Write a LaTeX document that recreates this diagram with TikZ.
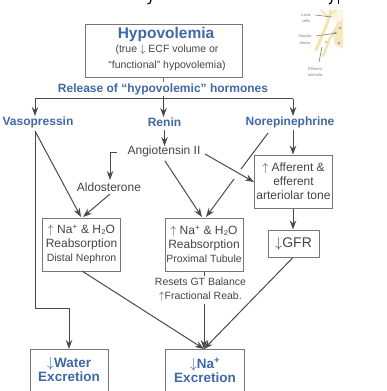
\documentclass[tikz,border=0pt]{standalone}
\usepackage{fontspec}
\setmainfont{Liberation Sans}
\usetikzlibrary{arrows.meta}
\definecolor{headblue}{HTML}{3F68A8}
\definecolor{linegray}{HTML}{4A4A4A}
\definecolor{boxgray}{HTML}{777777}
\definecolor{textgray}{HTML}{444444}
\definecolor{tan}{HTML}{F3E3AE}
\definecolor{cellpurple}{HTML}{A79BB5}
\tikzset{
  x=1pt,y=-1pt,
  flow/.style={draw=linegray,line width=1pt,-{Stealth[length=9pt,width=6.5pt]}},
  plain/.style={draw=linegray,line width=1pt},
  boxed/.style={draw=boxgray,line width=1pt,minimum width=78pt,align=center,inner sep=0pt,text=textgray},
  label/.style={text=textgray,font=\fontsize{12}{14}\selectfont,align=center,inner sep=1pt},
  head/.style={text=headblue,font=\fontsize{12}{14}\bfseries\selectfont,align=center,inner sep=1pt},
  tiny/.style={text=gray,font=\fontsize{4}{6.5}\selectfont,align=center,inner sep=0pt},
  strand/.style={draw=tan,line cap=round},
}
\newcommand{\up}{$\uparrow$}
\newcommand{\dn}{$\downarrow$}
\newcommand{\plusion}{\textsuperscript{+}}
\begin{document}
\begin{tikzpicture}
\useasboundingbox (0,0) rectangle (386,391);

% descenders of the heading line above
\draw[black,line width=1.2pt] (151,0) -- (150,3) -- (147.5,4);
\draw[black,line width=1.2pt] (332,0) -- (331,3) -- (329,4);
\draw[black,line width=1.2pt] (338.5,0) -- (338.5,4);

% juxtaglomerular inset
\fill[tan!35] (326,10) -- (343,10) -- (343,50) -- (334,44) -- (336,24) -- cycle;
\draw[strand,line width=3pt] (331,11) -- (327,24) -- (316,50);
\draw[strand,line width=2.5pt] (340,22) -- (330,38) -- (323,56);
\draw[strand,line width=1.5pt] (321,10) -- (328,17) -- (336,10);
\fill[tan!80] (343,18) -- (343,48) -- (335,45) -- (333,34) -- cycle;
\fill[cellpurple] (340,28) circle (1.3) (335,33) circle (1.3) (339,43) circle (1.3) (326,42) circle (1);
\draw[gray,line width=.6pt] (315,15) -- (332,17);
\draw[gray,line width=.6pt] (316,36) -- (337,33);
\draw[gray,line width=.6pt] (322,47) -- (319,62);
\node[tiny] (lacis) at (306,18) {Lacis\\cells};
\node[tiny] (macula) at (305,39.5) {Macula\\densa};
\node[tiny] (efferent) at (315,72) {Efferent\\arteriole};

% boxes
\node[boxed,minimum width=157pt,minimum height=53pt] (hypo) at (163.5,50.5) {};
\node[head,font=\fontsize{15.5}{18}\bfseries\selectfont] (hypotitle) at (166,34) {Hypovolemia};
\node[label,font=\fontsize{10.5}{16}\selectfont] (hyposub) at (167,58) {(true \dn\ ECF volume or\\“functional” hypovolemia)};
\node[head] (release) at (163,89) {Release of “hypovolemic” hormones};

\node[head] (vaso) at (38,122) {Vasopressin};
\node[head] (renin) at (164.5,122) {Renin};
\node[head] (norepi) at (290,122) {Norepinephrine};

\node[label] (angio) at (164,151) {Angiotensin II};
\node[label] (aldo) at (109,187) {Aldosterone};

\node[boxed,minimum height=53pt,font=\fontsize{12}{14}\selectfont] (distal) at (81.5,244.5) {\up\ Na\plusion\ \& H₂O\\Reabsorption\\{\fontsize{10.5}{14}\selectfont Distal Nephron}};
\node[boxed,minimum height=53pt,font=\fontsize{12}{14}\selectfont] (prox) at (204,244.5) {\up\ Na\plusion\ \& H₂O\\Reabsorption\\{\fontsize{10.5}{14}\selectfont Proximal Tubule}};
\node[boxed,minimum height=53pt,font=\fontsize{12}{14}\selectfont] (tone) at (293.5,181.5) {\up\ Afferent \&\\efferent\\arteriolar tone};
\node[boxed,minimum width=51pt,minimum height=27pt,font=\fontsize{14}{16}\selectfont] (gfr) at (293.5,243.5) {\dn GFR};
\node[label,font=\fontsize{10.5}{14}\selectfont] (resets) at (200.5,290) {Resets GT Balance\\\up Fractional Reab.};

% outcome boxes run off the bottom edge
\coordinate (watertop) at (69,349);
\coordinate (natop) at (204,349);
\draw[boxgray,line width=1pt] (30,391) -- (30,349) -- (108,349) -- (108,391);
\draw[boxgray,line width=1pt] (165,391) -- (165,349) -- (244,349) -- (244,391);
\node[head,font=\fontsize{13.5}{14}\bfseries\selectfont] (water) at (69,370) {\dn Water\\Excretion};
\node[head,font=\fontsize{13.5}{14}\bfseries\selectfont] (na) at (205,370) {\dn Na\plusion\\Excretion};

% hormone release tree
\coordinate (trunk) at (163.5,98.5);
\coordinate (treeleft) at (35,98.5);
\coordinate (treeright) at (293,98.5);
\draw[plain,boxgray] (hypo.south -| trunk) -- (release.north -| trunk);
\draw[plain,line width=1.2pt] (treeleft) -- (treeright);
\draw[plain] (release.south -| trunk) -- (trunk);
\draw[flow] (treeleft) -- (35,116);
\draw[flow] (trunk) -- (163.5,117);
\draw[flow] (treeright) -- (293,116);

% connectors between hormones and effects
\draw[flow] (164.5,130) -- (164.5,146);
\draw[flow] (117,152) -- (110,152) -- (110,180);
\draw[flow] (35,131) -- (81,217);
\draw[flow] (110,194) -- (83,217);
\draw[flow] (165,161) -- (202,217);
\draw[plain] (268,133) -- (241,169);
\draw[flow] (234,179) -- (206,217);
\draw[flow] (205,154) -- (tone.west |- 0,182);
\draw[flow] (293,130) -- (tone.north -| 293,0);
\draw[flow] (tone.south -| 293,0) -- (gfr.north -| 293,0);

% converging on excretion
\draw[plain] (35,131) -- (35,308) -- (69,308);
\draw[flow] (69,308) -- (watertop);
\draw[flow] (82,271) -- (natop);
\draw[plain] (prox.south -| 204,0) -- (204,276);
\draw[flow] (204,304) -- (natop);
\draw[flow] (gfr.south -| 293,0) -- (natop);
\end{tikzpicture}
\end{document}
